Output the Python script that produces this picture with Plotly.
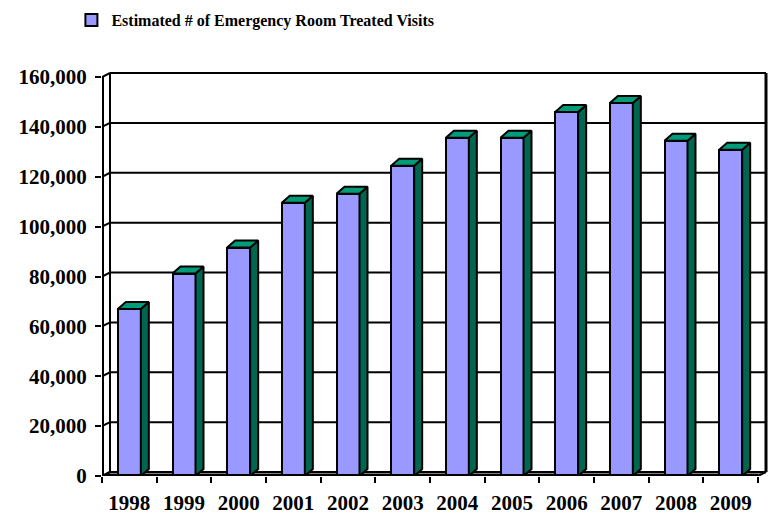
import plotly.graph_objects as go

# ---------------- data ----------------
years = ["1998", "1999", "2000", "2001", "2002", "2003",
         "2004", "2005", "2006", "2007", "2008", "2009"]
visits = [67000, 81200, 91600, 109600, 113200, 124400,
          135600, 135600, 146000, 149600, 134400, 130800]
y_ticks = [0, 20000, 40000, 60000, 80000, 100000, 120000, 140000, 160000]
series_name = "Estimated # of Emergency Room Treated Visits"

# ---------------- geometry / style ----------------
W, H = 775, 517
ml, mr, mt, mb = 102, 6, 70, 41
depth_x_px, wall_dy_px, bar_dy_px = 8, 4, 7
pad = 3
bar_px = 23

n = len(years)
plot_w = W - ml - mr
plot_h = H - mt - mb
cat_px = (plot_w - depth_x_px - pad) / n
k = y_ticks[-1] / (plot_h - wall_dy_px - pad)       # value units per pixel

dx = depth_x_px / cat_px
dyw = wall_dy_px * k
dyb = bar_dy_px * k
bw = bar_px / cat_px
x_min, x_max = -0.5, n - 0.5 + dx + pad / cat_px
y_min, y_max = 0, y_ticks[-1] + dyw + pad * k

FRONT = "#9999FF"
SIDE = "#006650"
TOP = "#009B78"
FONT = "Liberation Serif"

xs = list(range(n))

fig = go.Figure()

# front faces
fig.add_trace(go.Bar(
    x=xs, y=visits, width=bw, name=series_name,
    marker=dict(color=FRONT, line=dict(color="black", width=2)),
    hoverinfo="skip", showlegend=True,
))

# side faces
sx, sy = [], []
for xi, v in zip(xs, visits):
    xr = xi + bw / 2
    sx += [xr, xr + dx, xr + dx, xr, xr, None]
    sy += [0, dyb, v + dyb, v, 0, None]
fig.add_trace(go.Scatter(
    x=sx, y=sy, mode="lines", fill="toself", fillcolor=SIDE,
    line=dict(color="black", width=2), hoverinfo="skip", showlegend=False,
))

# top faces
tx, ty = [], []
for xi, v in zip(xs, visits):
    xl, xr = xi - bw / 2, xi + bw / 2
    tx += [xl, xr, xr + dx, xl + dx, xl, None]
    ty += [v, v, v + dyb, v + dyb, v, None]
fig.add_trace(go.Scatter(
    x=tx, y=ty, mode="lines", fill="toself", fillcolor=TOP,
    line=dict(color="black", width=2), hoverinfo="skip", showlegend=False,
))

# ---------------- walls / floor / grid ----------------
shapes = []
# floor
shapes.append(dict(
    type="path", xref="x", yref="y", layer="below",
    path=f"M {-0.5},{0} L {n - 0.5},{0} L {n - 0.5 + dx},{dyw} L {-0.5 + dx},{dyw} Z",
    fillcolor="#808080", line=dict(color="black", width=2),
))
# front bottom edge (thicker, half clipped)
shapes.append(dict(type="line", xref="x", yref="y", layer="above",
                   x0=-0.5, y0=0, x1=n - 0.5, y1=0,
                   line=dict(color="black", width=4)))
# back-wall gridlines + connectors
for t in y_ticks:
    shapes.append(dict(type="line", xref="x", yref="y", layer="below",
                       x0=-0.5 + dx, y0=t + dyw, x1=n - 0.5 + dx, y1=t + dyw,
                       line=dict(color="black", width=2)))
    shapes.append(dict(type="line", xref="x", yref="y", layer="below",
                       x0=-0.5, y0=t, x1=-0.5 + dx, y1=t + dyw,
                       line=dict(color="black", width=2)))
# back-left vertical edge
shapes.append(dict(type="line", xref="x", yref="y", layer="below",
                   x0=-0.5 + dx, y0=dyw, x1=-0.5 + dx, y1=y_ticks[-1] + dyw,
                   line=dict(color="black", width=2)))
# right edge of back wall
shapes.append(dict(type="line", xref="x", yref="y", layer="below",
                   x0=n - 0.5 + dx, y0=dyw, x1=n - 0.5 + dx, y1=y_ticks[-1] + dyw,
                   line=dict(color="black", width=3)))
# front left axis line (half clipped)
shapes.append(dict(type="line", xref="x", yref="y", layer="above",
                   x0=-0.5, y0=0, x1=-0.5, y1=y_ticks[-1],
                   line=dict(color="black", width=4)))

fig.update_layout(
    width=W, height=H,
    margin=dict(l=ml, r=mr, t=mt, b=mb, pad=0, autoexpand=False),
    paper_bgcolor="white", plot_bgcolor="white",
    shapes=shapes,
    bargap=0,
    showlegend=True,
    legend=dict(
        orientation="h", x=0.23, xanchor="center",
        y=1 + (mt - 20) / plot_h, yanchor="middle",
        font=dict(family=FONT, size=16, color="black", weight="bold"),
        bgcolor="rgba(0,0,0,0)", itemwidth=30,
    ),
    xaxis=dict(
        range=[x_min, x_max], showgrid=False, zeroline=False, showline=False,
        automargin=False,
        tickmode="array", tickvals=xs, ticktext=years, ticks="",
        tickfont=dict(family=FONT, size=21, color="black", weight="bold"),
        ticklabelstandoff=12,
        minor=dict(tickmode="array", tickvals=[i - 0.5 for i in range(n + 1)],
                   ticks="outside", ticklen=6, tickwidth=2, tickcolor="black",
                   showgrid=False),
    ),
    yaxis=dict(
        range=[y_min, y_max], showgrid=False, zeroline=False, showline=False,
        automargin=False,
        tickmode="array", tickvals=y_ticks, tickformat=",d",
        ticks="outside", ticklen=6, tickwidth=2, tickcolor="black",
        tickfont=dict(family=FONT, size=21, color="black", weight="bold"),
        ticklabelstandoff=4,
    ),
)

fig.write_html(
    "out.html",
    config={"displayModeBar": False},
    post_script="document.body.style.margin='0';document.body.style.overflow='hidden';",
)
